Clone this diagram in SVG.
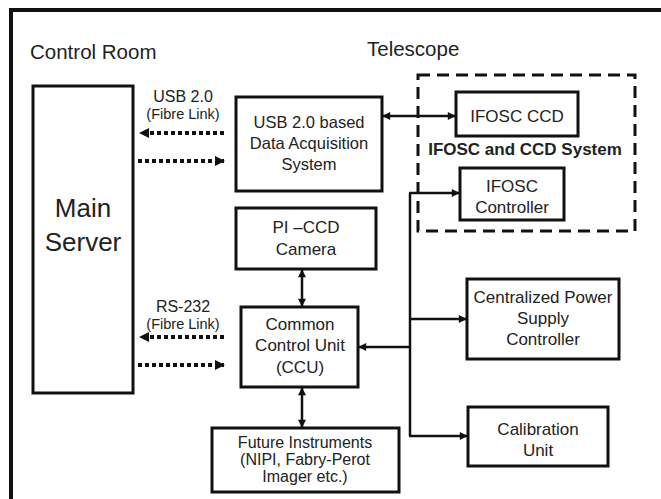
<svg xmlns="http://www.w3.org/2000/svg" width="661" height="499" viewBox="0 0 661 499">
<defs>
<style>
.box{fill:#fff;stroke:#111;stroke-width:3}
.t{font-family:"Liberation Sans",Arial,Helvetica,sans-serif;fill:#222;text-anchor:middle}
.c{stroke:#111;stroke-width:2.5;fill:none}
.d{stroke:#111;stroke-width:4;fill:none;stroke-dasharray:4 3}
</style>
<marker id="ah" viewBox="0 0 10 10" refX="9" refY="5" markerWidth="9" markerHeight="8" markerUnits="userSpaceOnUse" orient="auto-start-reverse">
<path d="M0,0 L10,5 L0,10 Z" fill="#111"/>
</marker>
<marker id="dh" viewBox="0 0 10 10" refX="9" refY="5" markerWidth="11" markerHeight="10" markerUnits="userSpaceOnUse" orient="auto-start-reverse">
<path d="M0,0 L10,5 L0,10 Z" fill="#111"/>
</marker>
</defs>
<rect width="661" height="499" fill="#fff"/>
<path d="M11,499 V10 H661" fill="none" stroke="#111" stroke-width="4"/>
<text class="t" x="30" y="59" font-size="20.5" style="text-anchor:start">Control Room</text>
<text class="t" x="367" y="56" font-size="20.5" style="text-anchor:start">Telescope</text>
<rect id="ifosc-system" x="418" y="75" width="217" height="156" fill="none" stroke="#111" stroke-width="3" stroke-dasharray="12 7"/>
<text class="t" x="525" y="155" font-size="17" font-weight="bold">IFOSC and CCD System</text>

<g id="main-server">
<rect class="box" x="33" y="86" width="100" height="307"/>
<text class="t" x="83" y="217" font-size="26">Main</text>
<text class="t" x="83" y="251" font-size="26">Server</text>
</g>
<g id="das">
<rect class="box" x="236" y="97" width="146" height="94"/>
<text class="t" x="309" y="128" font-size="16.5">USB 2.0 based</text>
<text class="t" x="309" y="149" font-size="16.5">Data Acquisition</text>
<text class="t" x="309" y="170" font-size="16.5">System</text>
</g>
<g id="pi-ccd">
<rect class="box" x="236" y="208" width="140" height="61"/>
<text class="t" x="306" y="233" font-size="17">PI –CCD</text>
<text class="t" x="306" y="255" font-size="17">Camera</text>
</g>
<g id="ccu">
<rect class="box" x="241" y="307" width="117" height="80"/>
<text class="t" x="300" y="330" font-size="17">Common</text>
<text class="t" x="300" y="351" font-size="17">Control Unit</text>
<text class="t" x="300" y="373" font-size="17">(CCU)</text>
</g>
<g id="future">
<rect class="box" x="212" y="428" width="187" height="64"/>
<text class="t" x="305" y="448" font-size="16">Future Instruments</text>
<text class="t" x="305" y="465" font-size="16">(NIPI, Fabry-Perot</text>
<text class="t" x="305" y="482" font-size="16">Imager etc.)</text>
</g>
<g id="ifosc-ccd">
<rect class="box" x="456" y="92" width="122" height="44"/>
<text class="t" x="517" y="122" font-size="17">IFOSC CCD</text>
</g>
<g id="ifosc-controller">
<rect class="box" x="460" y="168" width="104" height="52"/>
<text class="t" x="512" y="192" font-size="17">IFOSC</text>
<text class="t" x="512" y="213" font-size="17">Controller</text>
</g>
<g id="cps">
<rect class="box" x="467" y="279" width="152" height="80"/>
<text class="t" x="543" y="303" font-size="17">Centralized Power</text>
<text class="t" x="543" y="324" font-size="17">Supply</text>
<text class="t" x="543" y="345" font-size="17">Controller</text>
</g>
<g id="calibration">
<rect class="box" x="468" y="407" width="140" height="59"/>
<text class="t" x="538" y="435" font-size="17">Calibration</text>
<text class="t" x="538" y="456" font-size="17">Unit</text>
</g>

<g id="labels">
<text class="t" x="183" y="102" font-size="16">USB 2.0</text>
<text class="t" x="183" y="119" font-size="14.5">(Fibre Link)</text>
<text class="t" x="183" y="312" font-size="16">RS-232</text>
<text class="t" x="183" y="329" font-size="14.5">(Fibre Link)</text>
</g>

<g id="connectors">
<path class="d" d="M224,133 H140" marker-end="url(#dh)"/>
<path class="d" d="M138,161 H224" marker-end="url(#dh)"/>
<path class="d" d="M224,337 H140" marker-end="url(#dh)"/>
<path class="d" d="M138,365 H224" marker-end="url(#dh)"/>
<path class="c" d="M383,116 H455" marker-start="url(#ah)" marker-end="url(#ah)"/>
<path class="c" d="M410,193 V436"/>
<path class="c" d="M409,193 H459" marker-end="url(#ah)"/>
<path class="c" d="M410,319 H466" marker-end="url(#ah)"/>
<path class="c" d="M410,347 H359" marker-end="url(#ah)"/>
<path class="c" d="M409,436 H467" marker-end="url(#ah)"/>
<path class="c" d="M302,270 V306" marker-start="url(#ah)" marker-end="url(#ah)"/>
<path class="c" d="M302,388 V427" marker-start="url(#ah)" marker-end="url(#ah)"/>
</g>
</svg>
